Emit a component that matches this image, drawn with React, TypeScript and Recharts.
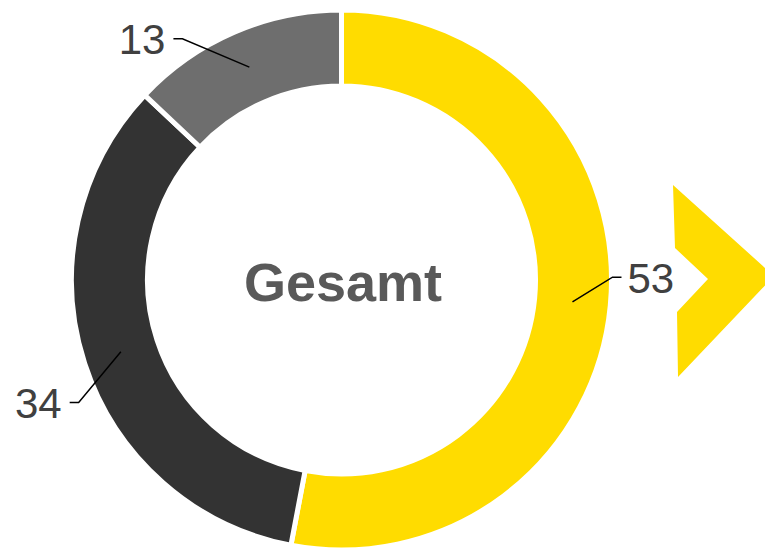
import React from "react";
import { Pie, PieChart, Cell, Customized } from "recharts";

const categories = ["A", "B", "C"];
const values = [53, 34, 13];
const colors = ["#FFDC00", "#333333", "#6E6E6E"];

const data = categories.map((c, i) => ({ name: c, value: values[i] }));

// hand-tuned placement of the leader-line elbow (angle shift in deg, radius)
const LABEL_NUDGE = [
  { dAngle: 6, r: 271 },
  { dAngle: 7, r: 290 },
  { dAngle: 10, r: 289 },
];

const RADIAN = Math.PI / 180;

function renderLabel(props: any) {
  const { cx, cy, midAngle, index, value } = props;
  const nudge = LABEL_NUDGE[index] || { dAngle: 0, r: 285 };
  const startR = 232;
  const sx = cx + startR * Math.cos(-midAngle * RADIAN);
  const sy = cy + startR * Math.sin(-midAngle * RADIAN);
  const a = midAngle + nudge.dAngle;
  const ex = cx + nudge.r * Math.cos(-a * RADIAN);
  const ey = cy + nudge.r * Math.sin(-a * RADIAN);
  const right = ex > cx;
  const hx = ex + (right ? 9 : -9);
  const tx = hx + (right ? 6 : -8);
  return (
    <g key={`lbl-${index}`}>
      <polyline
        points={`${sx},${sy} ${ex},${ey} ${hx},${ey}`}
        fill="none"
        stroke="#000"
        strokeWidth={1.5}
      />
      <text
        x={tx}
        y={ey + 1}
        textAnchor={right ? "start" : "end"}
        dominantBaseline="central"
        fontFamily="'Liberation Sans', Arial, sans-serif"
        fontSize={42}
        fill="#404040"
      >
        {value}
      </text>
    </g>
  );
}

function Chevron() {
  return (
    <polygon
      points="673,185 774,276 678,377 677,312 708,279 675,248"
      fill="#FFDC00"
    />
  );
}

export default function App() {
  return (
    <div style={{ position: "absolute", left: 0, top: 0, width: 765, height: 550 }}>
      <PieChart width={765} height={550} margin={{ top: 0, right: 0, bottom: 0, left: 0 }}>
        <Pie
          data={data}
          dataKey="value"
          cx={341.5}
          cy={280}
          innerRadius={194}
          outerRadius={270}
          startAngle={90}
          endAngle={-270}
          stroke="#ffffff"
          strokeWidth={5}
          label={renderLabel}
          labelLine={false}
          isAnimationActive={false}
        >
          {data.map((d, i) => (
            <Cell key={d.name} fill={colors[i]} />
          ))}
        </Pie>
        <Customized component={Chevron} />
        <text
          x={343}
          y={282}
          textAnchor="middle"
          dominantBaseline="central"
          fontFamily="'Liberation Sans', Arial, sans-serif"
          fontWeight="bold"
          fontSize={54}
          fill="#595959"
        >
          Gesamt
        </text>
      </PieChart>
    </div>
  );
}
